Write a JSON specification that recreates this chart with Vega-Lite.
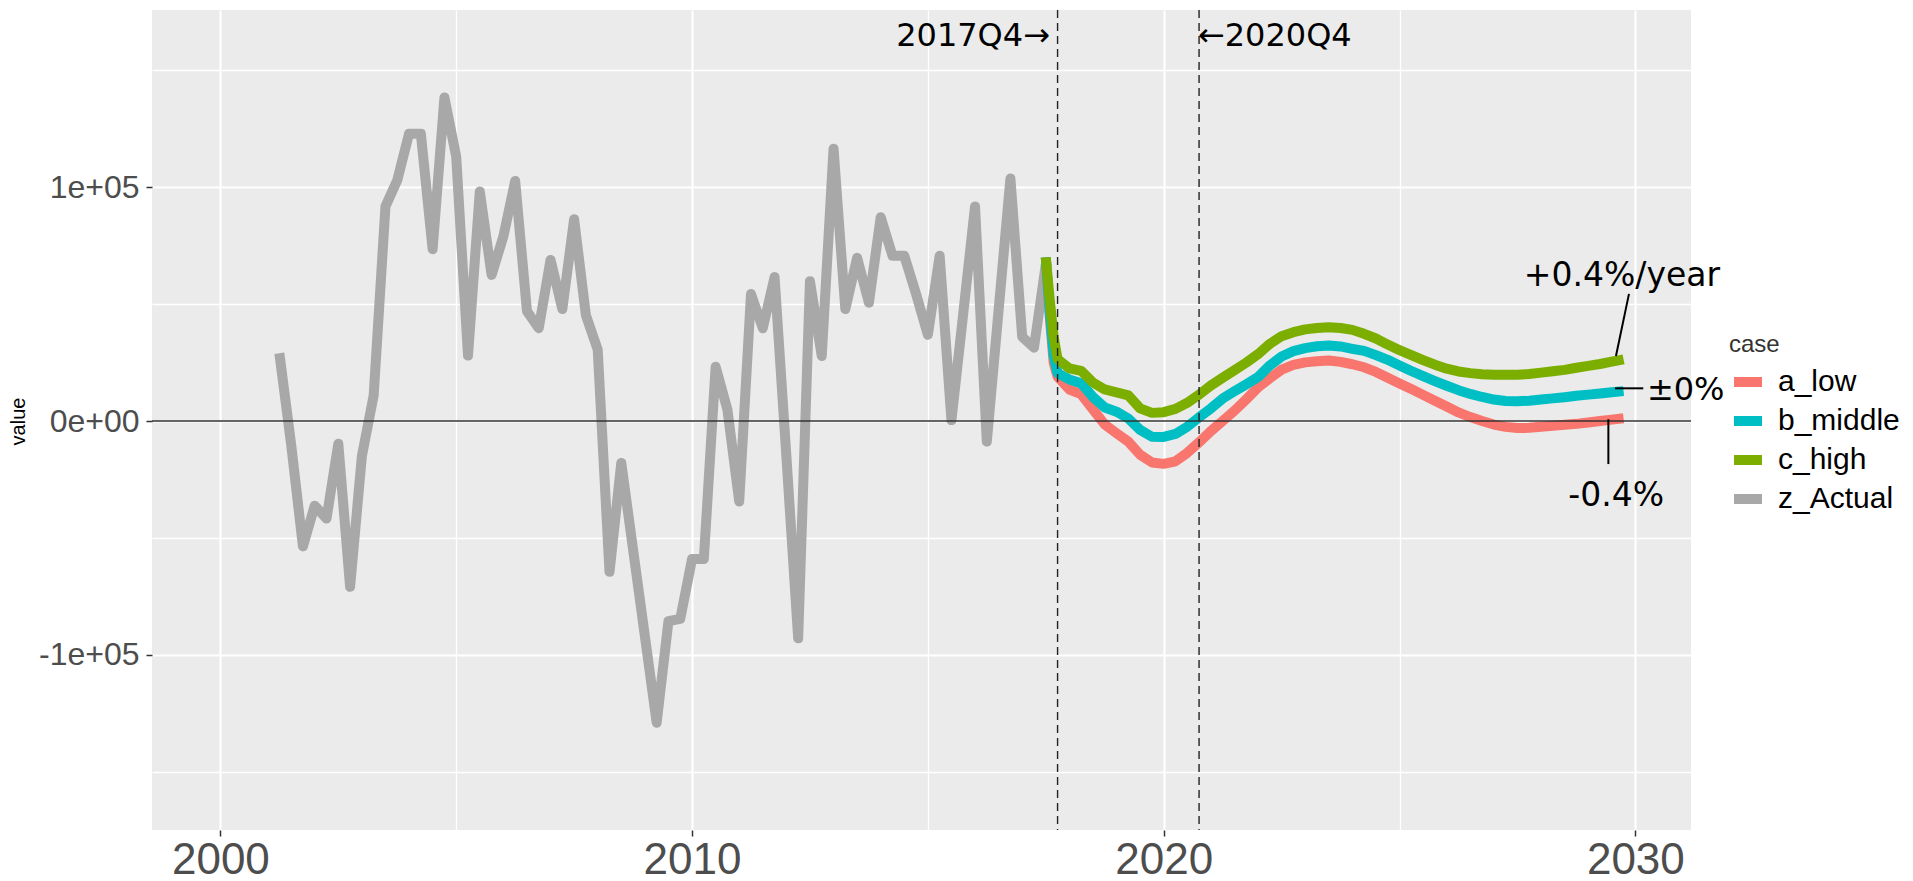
{
  "$schema": "https://vega.github.io/schema/vega-lite/v6.json",
  "width": 1539,
  "height": 820,
  "autosize": {"type": "none"},
  "padding": {"left": 152, "top": 10, "right": 222, "bottom": 51},
  "background": "white",
  "config": {
    "view": {"fill": "#EBEBEB", "stroke": null},
    "axis": {"domain": false, "gridColor": "#FFFFFF", "tickColor": "#333333", "tickWidth": 1.5, "tickSize": 6, "labelColor": "#4D4D4D", "labelFont": "Liberation Sans", "titleFont": "Liberation Sans", "titleFontWeight": "normal", "titleColor": "#000000"},
    "axisX": {"labelFontSize": 44, "labelPadding": 2},
    "axisY": {"labelFontSize": 32, "labelPadding": 7, "titleFontSize": 20},
    "legend": {"padding": 0, "titleFont": "Liberation Sans", "titleFontSize": 24, "titleFontWeight": "normal", "titleColor": "#333333", "titlePadding": 6, "labelFont": "Liberation Sans", "labelFontSize": 30, "labelColor": "#000000", "labelOffset": 11, "rowPadding": -2, "symbolType": "stroke", "symbolStrokeWidth": 10, "symbolSize": 784}
  },
  "datasets": {
    "actual": [
      {"case": "z_Actual", "t": 2001.25, "value": 29000},
      {"case": "z_Actual", "t": 2001.5, "value": -10000},
      {"case": "z_Actual", "t": 2001.75, "value": -53600},
      {"case": "z_Actual", "t": 2002.0, "value": -36200},
      {"case": "z_Actual", "t": 2002.25, "value": -41700},
      {"case": "z_Actual", "t": 2002.5, "value": -9700},
      {"case": "z_Actual", "t": 2002.75, "value": -70900},
      {"case": "z_Actual", "t": 2003.0, "value": -15000},
      {"case": "z_Actual", "t": 2003.25, "value": 11000},
      {"case": "z_Actual", "t": 2003.5, "value": 91800},
      {"case": "z_Actual", "t": 2003.75, "value": 103000},
      {"case": "z_Actual", "t": 2004.0, "value": 122900},
      {"case": "z_Actual", "t": 2004.25, "value": 122900},
      {"case": "z_Actual", "t": 2004.5, "value": 73500},
      {"case": "z_Actual", "t": 2004.75, "value": 138400},
      {"case": "z_Actual", "t": 2005.0, "value": 113000},
      {"case": "z_Actual", "t": 2005.25, "value": 28000},
      {"case": "z_Actual", "t": 2005.5, "value": 98200},
      {"case": "z_Actual", "t": 2005.75, "value": 62500},
      {"case": "z_Actual", "t": 2006.0, "value": 79000},
      {"case": "z_Actual", "t": 2006.25, "value": 102700},
      {"case": "z_Actual", "t": 2006.5, "value": 47000},
      {"case": "z_Actual", "t": 2006.75, "value": 39700},
      {"case": "z_Actual", "t": 2007.0, "value": 68900},
      {"case": "z_Actual", "t": 2007.25, "value": 47900},
      {"case": "z_Actual", "t": 2007.5, "value": 86300},
      {"case": "z_Actual", "t": 2007.75, "value": 45200},
      {"case": "z_Actual", "t": 2008.0, "value": 30500},
      {"case": "z_Actual", "t": 2008.25, "value": -64500},
      {"case": "z_Actual", "t": 2008.5, "value": -17900},
      {"case": "z_Actual", "t": 2008.75, "value": -55000},
      {"case": "z_Actual", "t": 2009.0, "value": -92000},
      {"case": "z_Actual", "t": 2009.25, "value": -129000},
      {"case": "z_Actual", "t": 2009.5, "value": -85600},
      {"case": "z_Actual", "t": 2009.75, "value": -84600},
      {"case": "z_Actual", "t": 2010.0, "value": -59000},
      {"case": "z_Actual", "t": 2010.25, "value": -59000},
      {"case": "z_Actual", "t": 2010.5, "value": 23200},
      {"case": "z_Actual", "t": 2010.75, "value": 4900},
      {"case": "z_Actual", "t": 2011.0, "value": -34400},
      {"case": "z_Actual", "t": 2011.25, "value": 54300},
      {"case": "z_Actual", "t": 2011.5, "value": 39700},
      {"case": "z_Actual", "t": 2011.75, "value": 61600},
      {"case": "z_Actual", "t": 2012.0, "value": -15000},
      {"case": "z_Actual", "t": 2012.25, "value": -92900},
      {"case": "z_Actual", "t": 2012.5, "value": 59800},
      {"case": "z_Actual", "t": 2012.75, "value": 27800},
      {"case": "z_Actual", "t": 2013.0, "value": 116500},
      {"case": "z_Actual", "t": 2013.25, "value": 47900},
      {"case": "z_Actual", "t": 2013.5, "value": 69800},
      {"case": "z_Actual", "t": 2013.75, "value": 50600},
      {"case": "z_Actual", "t": 2014.0, "value": 87200},
      {"case": "z_Actual", "t": 2014.25, "value": 70700},
      {"case": "z_Actual", "t": 2014.5, "value": 70700},
      {"case": "z_Actual", "t": 2014.75, "value": 54300},
      {"case": "z_Actual", "t": 2015.0, "value": 36900},
      {"case": "z_Actual", "t": 2015.25, "value": 70700},
      {"case": "z_Actual", "t": 2015.5, "value": 400},
      {"case": "z_Actual", "t": 2015.75, "value": 46000},
      {"case": "z_Actual", "t": 2016.0, "value": 91800},
      {"case": "z_Actual", "t": 2016.25, "value": -8800},
      {"case": "z_Actual", "t": 2016.5, "value": 47500},
      {"case": "z_Actual", "t": 2016.75, "value": 103700},
      {"case": "z_Actual", "t": 2017.0, "value": 36000},
      {"case": "z_Actual", "t": 2017.25, "value": 31400},
      {"case": "z_Actual", "t": 2017.5, "value": 67000}
    ],
    "forecast": [
      {"case": "a_low", "t": 2017.5, "value": 70000},
      {"case": "a_low", "t": 2017.583, "value": 45000},
      {"case": "a_low", "t": 2017.667, "value": 25000},
      {"case": "a_low", "t": 2017.75, "value": 19000},
      {"case": "a_low", "t": 2018.0, "value": 13500},
      {"case": "a_low", "t": 2018.25, "value": 11500},
      {"case": "a_low", "t": 2018.5, "value": 5000},
      {"case": "a_low", "t": 2018.75, "value": -1500},
      {"case": "a_low", "t": 2019.0, "value": -5200},
      {"case": "a_low", "t": 2019.25, "value": -8800},
      {"case": "a_low", "t": 2019.5, "value": -14400},
      {"case": "a_low", "t": 2019.75, "value": -17700},
      {"case": "a_low", "t": 2020.0, "value": -18300},
      {"case": "a_low", "t": 2020.25, "value": -17200},
      {"case": "a_low", "t": 2020.5, "value": -13600},
      {"case": "a_low", "t": 2020.75, "value": -9100},
      {"case": "a_low", "t": 2021.0, "value": -4300},
      {"case": "a_low", "t": 2021.25, "value": 0},
      {"case": "a_low", "t": 2021.5, "value": 4400},
      {"case": "a_low", "t": 2021.75, "value": 9300},
      {"case": "a_low", "t": 2022.0, "value": 14400},
      {"case": "a_low", "t": 2022.25, "value": 18300},
      {"case": "a_low", "t": 2022.5, "value": 22000},
      {"case": "a_low", "t": 2022.75, "value": 24000},
      {"case": "a_low", "t": 2023.0, "value": 25100},
      {"case": "a_low", "t": 2023.25, "value": 25600},
      {"case": "a_low", "t": 2023.5, "value": 25900},
      {"case": "a_low", "t": 2023.75, "value": 25300},
      {"case": "a_low", "t": 2024.0, "value": 24300},
      {"case": "a_low", "t": 2024.25, "value": 23000},
      {"case": "a_low", "t": 2024.5, "value": 21000},
      {"case": "a_low", "t": 2024.75, "value": 18500},
      {"case": "a_low", "t": 2025.0, "value": 16100},
      {"case": "a_low", "t": 2025.25, "value": 13700},
      {"case": "a_low", "t": 2025.5, "value": 11200},
      {"case": "a_low", "t": 2025.75, "value": 8700},
      {"case": "a_low", "t": 2026.0, "value": 6200},
      {"case": "a_low", "t": 2026.25, "value": 3700},
      {"case": "a_low", "t": 2026.5, "value": 1700},
      {"case": "a_low", "t": 2026.75, "value": 0},
      {"case": "a_low", "t": 2027.0, "value": -1500},
      {"case": "a_low", "t": 2027.25, "value": -2500},
      {"case": "a_low", "t": 2027.5, "value": -3000},
      {"case": "a_low", "t": 2027.75, "value": -2900},
      {"case": "a_low", "t": 2028.0, "value": -2400},
      {"case": "a_low", "t": 2028.25, "value": -2000},
      {"case": "a_low", "t": 2028.5, "value": -1600},
      {"case": "a_low", "t": 2028.75, "value": -1200},
      {"case": "a_low", "t": 2029.0, "value": -600},
      {"case": "a_low", "t": 2029.25, "value": 0},
      {"case": "a_low", "t": 2029.5, "value": 600},
      {"case": "a_low", "t": 2029.75, "value": 1200},
      {"case": "b_middle", "t": 2017.5, "value": 70000},
      {"case": "b_middle", "t": 2017.583, "value": 47000},
      {"case": "b_middle", "t": 2017.667, "value": 28000},
      {"case": "b_middle", "t": 2017.75, "value": 20500},
      {"case": "b_middle", "t": 2018.0, "value": 17800},
      {"case": "b_middle", "t": 2018.25, "value": 16200},
      {"case": "b_middle", "t": 2018.5, "value": 10300},
      {"case": "b_middle", "t": 2018.75, "value": 5800},
      {"case": "b_middle", "t": 2019.0, "value": 4000},
      {"case": "b_middle", "t": 2019.25, "value": 1100},
      {"case": "b_middle", "t": 2019.5, "value": -3800},
      {"case": "b_middle", "t": 2019.75, "value": -6700},
      {"case": "b_middle", "t": 2020.0, "value": -6800},
      {"case": "b_middle", "t": 2020.25, "value": -5500},
      {"case": "b_middle", "t": 2020.5, "value": -2400},
      {"case": "b_middle", "t": 2020.75, "value": 1600},
      {"case": "b_middle", "t": 2021.0, "value": 5400},
      {"case": "b_middle", "t": 2021.25, "value": 9600},
      {"case": "b_middle", "t": 2021.5, "value": 12700},
      {"case": "b_middle", "t": 2021.75, "value": 15700},
      {"case": "b_middle", "t": 2022.0, "value": 18800},
      {"case": "b_middle", "t": 2022.25, "value": 23800},
      {"case": "b_middle", "t": 2022.5, "value": 27600},
      {"case": "b_middle", "t": 2022.75, "value": 29900},
      {"case": "b_middle", "t": 2023.0, "value": 31200},
      {"case": "b_middle", "t": 2023.25, "value": 32000},
      {"case": "b_middle", "t": 2023.5, "value": 32300},
      {"case": "b_middle", "t": 2023.75, "value": 31900},
      {"case": "b_middle", "t": 2024.0, "value": 30900},
      {"case": "b_middle", "t": 2024.25, "value": 30000},
      {"case": "b_middle", "t": 2024.5, "value": 28200},
      {"case": "b_middle", "t": 2024.75, "value": 26200},
      {"case": "b_middle", "t": 2025.0, "value": 23800},
      {"case": "b_middle", "t": 2025.25, "value": 21400},
      {"case": "b_middle", "t": 2025.5, "value": 19200},
      {"case": "b_middle", "t": 2025.75, "value": 17100},
      {"case": "b_middle", "t": 2026.0, "value": 15100},
      {"case": "b_middle", "t": 2026.25, "value": 13200},
      {"case": "b_middle", "t": 2026.5, "value": 11600},
      {"case": "b_middle", "t": 2026.75, "value": 10300},
      {"case": "b_middle", "t": 2027.0, "value": 9200},
      {"case": "b_middle", "t": 2027.25, "value": 8600},
      {"case": "b_middle", "t": 2027.5, "value": 8500},
      {"case": "b_middle", "t": 2027.75, "value": 8700},
      {"case": "b_middle", "t": 2028.0, "value": 9200},
      {"case": "b_middle", "t": 2028.25, "value": 9700},
      {"case": "b_middle", "t": 2028.5, "value": 10200},
      {"case": "b_middle", "t": 2028.75, "value": 10800},
      {"case": "b_middle", "t": 2029.0, "value": 11300},
      {"case": "b_middle", "t": 2029.25, "value": 11800},
      {"case": "b_middle", "t": 2029.5, "value": 12300},
      {"case": "b_middle", "t": 2029.75, "value": 12800},
      {"case": "c_high", "t": 2017.5, "value": 70000},
      {"case": "c_high", "t": 2017.583, "value": 52000},
      {"case": "c_high", "t": 2017.667, "value": 36000},
      {"case": "c_high", "t": 2017.75, "value": 26500},
      {"case": "c_high", "t": 2018.0, "value": 22500},
      {"case": "c_high", "t": 2018.25, "value": 21500},
      {"case": "c_high", "t": 2018.5, "value": 16500},
      {"case": "c_high", "t": 2018.75, "value": 13500},
      {"case": "c_high", "t": 2019.0, "value": 12300},
      {"case": "c_high", "t": 2019.25, "value": 11000},
      {"case": "c_high", "t": 2019.5, "value": 5400},
      {"case": "c_high", "t": 2019.75, "value": 3500},
      {"case": "c_high", "t": 2020.0, "value": 3800},
      {"case": "c_high", "t": 2020.25, "value": 5200},
      {"case": "c_high", "t": 2020.5, "value": 7800},
      {"case": "c_high", "t": 2020.75, "value": 11300},
      {"case": "c_high", "t": 2021.0, "value": 15200},
      {"case": "c_high", "t": 2021.25, "value": 18500},
      {"case": "c_high", "t": 2021.5, "value": 21700},
      {"case": "c_high", "t": 2021.75, "value": 25000},
      {"case": "c_high", "t": 2022.0, "value": 28600},
      {"case": "c_high", "t": 2022.25, "value": 33000},
      {"case": "c_high", "t": 2022.5, "value": 36300},
      {"case": "c_high", "t": 2022.75, "value": 38000},
      {"case": "c_high", "t": 2023.0, "value": 39200},
      {"case": "c_high", "t": 2023.25, "value": 39800},
      {"case": "c_high", "t": 2023.5, "value": 40100},
      {"case": "c_high", "t": 2023.75, "value": 39800},
      {"case": "c_high", "t": 2024.0, "value": 39000},
      {"case": "c_high", "t": 2024.25, "value": 37300},
      {"case": "c_high", "t": 2024.5, "value": 35300},
      {"case": "c_high", "t": 2024.75, "value": 32700},
      {"case": "c_high", "t": 2025.0, "value": 30300},
      {"case": "c_high", "t": 2025.25, "value": 28200},
      {"case": "c_high", "t": 2025.5, "value": 26100},
      {"case": "c_high", "t": 2025.75, "value": 24100},
      {"case": "c_high", "t": 2026.0, "value": 22400},
      {"case": "c_high", "t": 2026.25, "value": 21200},
      {"case": "c_high", "t": 2026.5, "value": 20500},
      {"case": "c_high", "t": 2026.75, "value": 20000},
      {"case": "c_high", "t": 2027.0, "value": 19800},
      {"case": "c_high", "t": 2027.25, "value": 19800},
      {"case": "c_high", "t": 2027.5, "value": 19800},
      {"case": "c_high", "t": 2027.75, "value": 20100},
      {"case": "c_high", "t": 2028.0, "value": 20700},
      {"case": "c_high", "t": 2028.25, "value": 21300},
      {"case": "c_high", "t": 2028.5, "value": 21900},
      {"case": "c_high", "t": 2028.75, "value": 22800},
      {"case": "c_high", "t": 2029.0, "value": 23600},
      {"case": "c_high", "t": 2029.25, "value": 24400},
      {"case": "c_high", "t": 2029.5, "value": 25400},
      {"case": "c_high", "t": 2029.75, "value": 26400}
    ],
    "zero": [{"value": 0}],
    "vlines": [{"t": 2017.75}, {"t": 2020.75}],
    "leaders": [
      {"t": 2029.589, "t2": 2029.865, "value": 27800, "value2": 54400},
      {"t": 2029.568, "t2": 2030.168, "value": 14000, "value2": 14000},
      {"t": 2029.428, "t2": 2029.428, "value": 770, "value2": -18400}
    ],
    "notesRight": [{"t": 2017.589, "value": 160200, "label": "2017Q4→"}],
    "notesLeft": [
      {"t": 2020.726, "value": 160200, "label": "←2020Q4"},
      {"t": 2030.246, "value": 9200, "label": "±0%"}
    ],
    "notesCenter": [
      {"t": 2029.716, "value": 57800, "label": "+0.4%/year"},
      {"t": 2029.594, "value": -36300, "label": "-0.4%"}
    ]
  },
  "layer": [
    {
      "data": {"name": "actual"},
      "mark": {"type": "line", "strokeWidth": 10, "strokeJoin": "round", "strokeCap": "butt"},
      "encoding": {
        "x": {"field": "t", "type": "quantitative", "title": null, "scale": {"domain": [1998.55, 2031.18], "nice": false, "zero": false},
          "axis": {"values": [2000, 2005, 2010, 2015, 2020, 2025, 2030], "format": "d", "labelExpr": "datum.value % 10 == 0 ? datum.label : ''",
            "gridWidth": {"condition": {"test": "datum.value % 10 == 0", "value": 2.2}, "value": 1.3},
            "tickOpacity": {"condition": {"test": "datum.value % 10 == 0", "value": 1}, "value": 0}}},
        "y": {"field": "value", "type": "quantitative", "title": "value", "scale": {"domain": [-174900, 175800], "nice": false, "zero": false},
          "axis": {"values": [-150000, -100000, -50000, 0, 50000, 100000, 150000],
            "labelExpr": "datum.value == 100000 ? '1e+05' : datum.value == 0 ? '0e+00' : datum.value == -100000 ? '-1e+05' : ''",
            "gridWidth": {"condition": {"test": "datum.value % 100000 == 0", "value": 2.2}, "value": 1.3},
            "tickOpacity": {"condition": {"test": "datum.value % 100000 == 0", "value": 1}, "value": 0},
            "titleAngle": 270, "titleX": -128, "titleY": 411, "titleBaseline": "alphabetic", "titleAlign": "center"}},
        "color": {"field": "case", "type": "nominal",
          "scale": {"domain": ["a_low", "b_middle", "c_high", "z_Actual"], "range": ["#F8766D", "#00BFC4", "#7CAE00", "#A8A8A8"]},
          "legend": {"title": "case", "orient": "none", "legendX": 1577, "legendY": 323}}
      }
    },
    {
      "data": {"name": "forecast"},
      "mark": {"type": "line", "strokeWidth": 10, "strokeJoin": "round", "strokeCap": "butt"},
      "encoding": {
        "x": {"field": "t", "type": "quantitative", "title": null},
        "y": {"field": "value", "type": "quantitative", "title": "value"},
        "color": {"field": "case", "type": "nominal"}
      }
    },
    {
      "data": {"name": "zero"},
      "mark": {"type": "rule", "color": "#333333", "strokeWidth": 1.5},
      "encoding": {"y": {"field": "value", "type": "quantitative", "title": "value"}}
    },
    {
      "data": {"name": "vlines"},
      "mark": {"type": "rule", "color": "#222222", "strokeWidth": 1.4, "strokeDash": [8, 5]},
      "encoding": {"x": {"field": "t", "type": "quantitative", "title": null}}
    },
    {
      "data": {"name": "leaders"},
      "mark": {"type": "rule", "color": "#000000", "strokeWidth": 2},
      "encoding": {
        "x": {"field": "t", "type": "quantitative", "title": null},
        "x2": {"field": "t2"},
        "y": {"field": "value", "type": "quantitative", "title": "value"},
        "y2": {"field": "value2"}
      }
    },
    {
      "data": {"name": "notesRight"},
      "mark": {"type": "text", "align": "right", "baseline": "alphabetic", "font": "DejaVu Sans", "fontSize": 32, "color": "#000000"},
      "encoding": {
        "x": {"field": "t", "type": "quantitative", "title": null},
        "y": {"field": "value", "type": "quantitative", "title": "value"},
        "text": {"field": "label"}
      }
    },
    {
      "data": {"name": "notesLeft"},
      "mark": {"type": "text", "align": "left", "baseline": "alphabetic", "font": "DejaVu Sans", "fontSize": 32, "color": "#000000"},
      "encoding": {
        "x": {"field": "t", "type": "quantitative", "title": null},
        "y": {"field": "value", "type": "quantitative", "title": "value"},
        "text": {"field": "label"}
      }
    },
    {
      "data": {"name": "notesCenter"},
      "mark": {"type": "text", "align": "center", "baseline": "alphabetic", "font": "DejaVu Sans", "fontSize": 33, "color": "#000000"},
      "encoding": {
        "x": {"field": "t", "type": "quantitative", "title": null},
        "y": {"field": "value", "type": "quantitative", "title": "value"},
        "text": {"field": "label"}
      }
    }
  ]
}
